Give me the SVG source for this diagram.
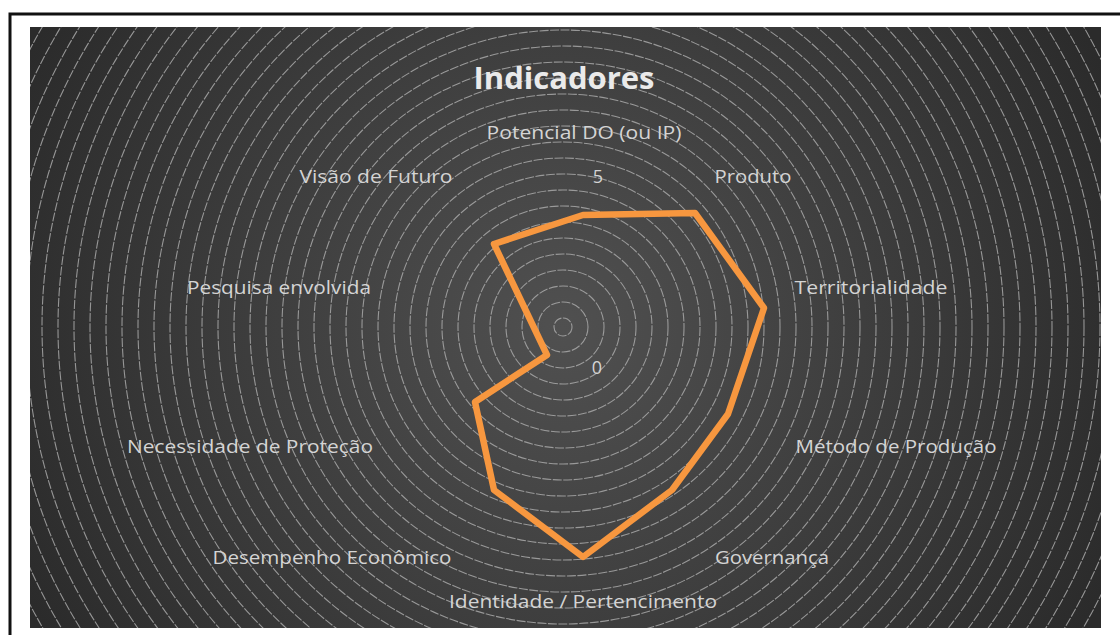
<svg xmlns="http://www.w3.org/2000/svg" width="1120" height="635" viewBox="0 0 1120 635">
<defs>
<radialGradient id="bg" cx="563" cy="327" r="600" gradientUnits="userSpaceOnUse">
<stop offset="0" stop-color="#505050"/>
<stop offset="0.5" stop-color="#3e3e3e"/>
<stop offset="1" stop-color="#2b2b2b"/>
</radialGradient>
<clipPath id="panel"><rect x="30" y="27" width="1071" height="601"/></clipPath>
<style>
.ring{fill:none;stroke:#a8a8a8;stroke-width:1.1;stroke-opacity:0.85;stroke-dasharray:9 1.5}
.lbl{font-family:"Open Sans","Liberation Sans",sans-serif;font-size:18px;fill:#d4d4d4;text-anchor:middle}
.num{font-family:"Open Sans","Liberation Sans",sans-serif;font-size:18px;fill:#d4d4d4;text-anchor:middle}
.title{font-family:"Open Sans","Liberation Sans",sans-serif;font-size:30px;font-weight:bold;fill:#eaeaea;text-anchor:middle}
.series{fill:none;stroke:#f7973f;stroke-width:6.5;stroke-linejoin:round}
</style>
</defs>
<rect width="1120" height="635" fill="#ffffff"/>
<path d="M10 635 V14 H1120" fill="none" stroke="#111" stroke-width="3"/>
<g id="background">
<rect x="30" y="27" width="1071" height="601" fill="url(#bg)"/>
<g clip-path="url(#panel)">
<circle class="ring" cx="563" cy="327" r="9"/>
<circle class="ring" cx="563" cy="327" r="25"/>
<circle class="ring" cx="563" cy="327" r="41"/>
<circle class="ring" cx="563" cy="327" r="57"/>
<circle class="ring" cx="563" cy="327" r="73"/>
<circle class="ring" cx="563" cy="327" r="89"/>
<circle class="ring" cx="563" cy="327" r="105"/>
<circle class="ring" cx="563" cy="327" r="121"/>
<circle class="ring" cx="563" cy="327" r="137"/>
<circle class="ring" cx="563" cy="327" r="153"/>
<circle class="ring" cx="563" cy="327" r="169"/>
<circle class="ring" cx="563" cy="327" r="185"/>
<circle class="ring" cx="563" cy="327" r="201"/>
<circle class="ring" cx="563" cy="327" r="217"/>
<circle class="ring" cx="563" cy="327" r="233"/>
<circle class="ring" cx="563" cy="327" r="249"/>
<circle class="ring" cx="563" cy="327" r="265"/>
<circle class="ring" cx="563" cy="327" r="281"/>
<circle class="ring" cx="563" cy="327" r="297"/>
<circle class="ring" cx="563" cy="327" r="313"/>
<circle class="ring" cx="563" cy="327" r="329"/>
<circle class="ring" cx="563" cy="327" r="345"/>
<circle class="ring" cx="563" cy="327" r="361"/>
<circle class="ring" cx="563" cy="327" r="377"/>
<circle class="ring" cx="563" cy="327" r="393"/>
<circle class="ring" cx="563" cy="327" r="409"/>
<circle class="ring" cx="563" cy="327" r="425"/>
<circle class="ring" cx="563" cy="327" r="441"/>
<circle class="ring" cx="563" cy="327" r="457"/>
<circle class="ring" cx="563" cy="327" r="473"/>
<circle class="ring" cx="563" cy="327" r="489"/>
<circle class="ring" cx="563" cy="327" r="505"/>
<circle class="ring" cx="563" cy="327" r="521"/>
<circle class="ring" cx="563" cy="327" r="537"/>
<circle class="ring" cx="563" cy="327" r="553"/>
<circle class="ring" cx="563" cy="327" r="569"/>
<circle class="ring" cx="563" cy="327" r="585"/>
<circle class="ring" cx="563" cy="327" r="601"/>
<circle class="ring" cx="563" cy="327" r="617"/>
</g>
</g>
<g id="title"><text class="title" x="564" y="89" textLength="181" lengthAdjust="spacingAndGlyphs">Indicadores</text></g>
<g id="series">
<polygon class="series" points="583,215 695,213 764,308 728,414 672,490 583,557 494,490 475,402 547,355 494,244"/>
</g>
<g id="axis-values">
<text class="num" x="598" y="183">5</text>
<text class="num" x="597" y="374">0</text>
</g>
<g id="labels">
<text id="l-potencial" class="lbl" x="584" y="139" textLength="195" lengthAdjust="spacingAndGlyphs">Potencial DO (ou IP)</text>
<text id="l-produto" class="lbl" x="753" y="183" textLength="77" lengthAdjust="spacingAndGlyphs">Produto</text>
<text id="l-territorialidade" class="lbl" x="871" y="294" textLength="153" lengthAdjust="spacingAndGlyphs">Territorialidade</text>
<text id="l-metodo" class="lbl" x="896" y="453" textLength="201" lengthAdjust="spacingAndGlyphs">Método de Produção</text>
<text id="l-governanca" class="lbl" x="772" y="564" textLength="114" lengthAdjust="spacingAndGlyphs">Governança</text>
<text id="l-identidade" class="lbl" x="583" y="608" textLength="268" lengthAdjust="spacingAndGlyphs">Identidade / Pertencimento</text>
<text id="l-desempenho" class="lbl" x="332" y="564" textLength="239" lengthAdjust="spacingAndGlyphs">Desempenho Econômico</text>
<text id="l-necessidade" class="lbl" x="250" y="453" textLength="246" lengthAdjust="spacingAndGlyphs">Necessidade de Proteção</text>
<text id="l-pesquisa" class="lbl" x="279" y="294" textLength="184" lengthAdjust="spacingAndGlyphs">Pesquisa envolvida</text>
<text id="l-visao" class="lbl" x="376" y="183" textLength="153" lengthAdjust="spacingAndGlyphs">Visão de Futuro</text>
</g>
</svg>
